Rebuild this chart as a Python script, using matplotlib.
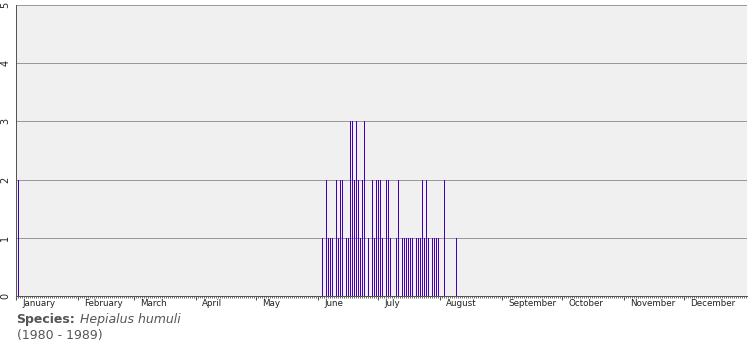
import matplotlib
matplotlib.use("Agg")
import matplotlib.pyplot as plt
import matplotlib.transforms as mtransforms
from matplotlib.ticker import MultipleLocator

# dag van het jaar (1 = 1 januari) en aantal waarnemingen
days = [2, 154, 156, 157, 158, 159, 161, 162, 163, 164, 166, 167, 168, 169,
        170, 171, 172, 173, 174, 175, 177, 179, 180, 181, 182, 183, 184, 186,
        187, 188, 191, 192, 194, 195, 196, 197, 198, 199, 201, 202, 203, 204,
        205, 206, 207, 209, 210, 211, 212, 215, 221]
counts = [2, 1, 2, 1, 1, 1, 2, 1, 2, 2, 1, 1, 3, 3,
          2, 3, 2, 1, 2, 3, 1, 2, 1, 2, 2, 2, 1, 2,
          2, 1, 1, 2, 1, 1, 1, 1, 1, 1, 1, 1, 1, 2,
          1, 2, 1, 1, 1, 1, 1, 2, 1]

months = ["January", "February", "March", "April", "May", "June", "July",
          "August", "September", "October", "November", "December"]
month_start = [1, 32, 60, 91, 121, 152, 182, 213, 244, 274, 305, 335]

bar_color = "#4600b4"
axis_color = "#555555"
text_color = "#555555"
px = 0.72  # 1 pixel bij 100 dpi

fig = plt.figure(figsize=(7.55, 3.5), dpi=100)
ax = fig.add_axes([16 / 755, 54 / 350, 731 / 755, 291 / 350])
ax.set_facecolor("#f0f0f0")

# staafjes van 1 pixel breed (halve dag)
x = [d - 1 + 0.2 for d in days]
ax.bar(x, counts, width=0.5, align="edge", color=bar_color, linewidth=0,
       antialiased=False, zorder=2)

ax.set_xlim(0, 365.5)
ax.set_ylim(0, 5)

# horizontale rasterlijnen
for y in range(1, 6):
    ax.axhline(y, color="#999999", linewidth=px, zorder=1, antialiased=False)

for side in ["top", "right"]:
    ax.spines[side].set_visible(False)
for side in ["left", "bottom"]:
    ax.spines[side].set_color(axis_color)
    ax.spines[side].set_linewidth(px)

ax.set_yticks(range(0, 6))
ax.set_yticklabels([str(v) for v in range(0, 6)], rotation=90, va="center",
                   fontsize=7, color="#222222")
ax.tick_params(axis="y", length=0, pad=4)

# maandstreepjes + dagstreepjes
ax.set_xticks([m - 1 for m in month_start])
ax.set_xticklabels([])
ax.xaxis.set_minor_locator(MultipleLocator(1))
ax.tick_params(axis="x", which="major", length=3, width=0.8, color=axis_color)
ax.tick_params(axis="x", which="minor", length=1.2, width=0.6, color=axis_color)

trans = mtransforms.blended_transform_factory(ax.transData, ax.transAxes)
for name, start in zip(months, month_start):
    ax.text(start - 1 + 3.2, -0.012, name, transform=trans, ha="left", va="top",
            fontsize=6.3, color="#222222")

fig.text(16 / 755, 1 - 320 / 350, "Species:", fontsize=9, fontweight="bold",
         color=text_color, va="center", ha="left")
fig.text(80 / 755, 1 - 320 / 350, "Hepialus humuli", fontsize=9, style="italic",
         color=text_color, va="center", ha="left")
fig.text(17 / 755, 1 - 335 / 350, "(1980 - 1989)", fontsize=9,
         color=text_color, va="center", ha="left")

fig.savefig("out.png", dpi=100)
